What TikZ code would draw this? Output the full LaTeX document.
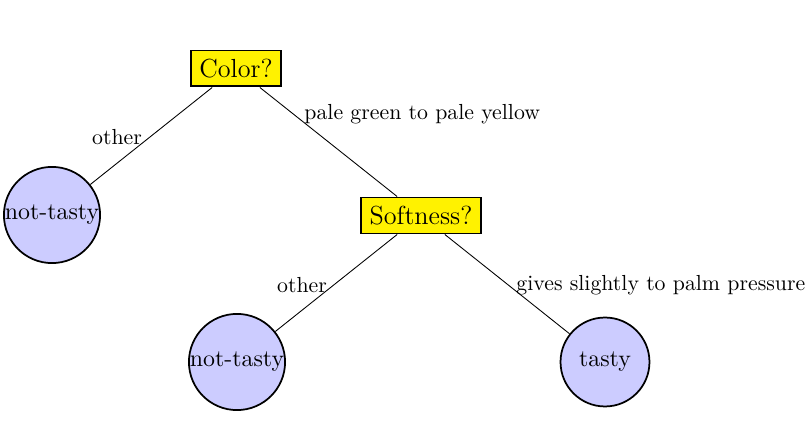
\documentclass[tikz,border=0pt]{standalone}
\begin{document}
\begin{tikzpicture}[x=0.4587pt,y=-0.4587pt,
  question/.style={draw=black,line width=0.9pt,fill=yellow,font=\large,inner sep=3.9pt},
  leafbig/.style={circle,draw=black,thick,fill=blue!20,inner sep=0pt,minimum size=44pt,font=\fontsize{10.95pt}{13pt}\selectfont},
  leafsmall/.style={circle,draw=black,thick,fill=blue!20,inner sep=0pt,minimum size=40.8pt,font=\fontsize{10.95pt}{13pt}\selectfont},
  lbl/.style={inner sep=0pt},
  edge/.style={draw=black,line width=0.4pt}]
\useasboundingbox (0,0) rectangle (812,433);
\node[question] (color) at (236,68.5) {Color?};
\node[question] (soft) at (421,215.5) {Softness?};
\node[leafbig] (nt1) at (52,215) {not-tasty};
\node[leafbig] (nt2) at (237,362) {not-tasty};
\node[leafsmall] (tasty) at (605,362) {tasty};
\draw[edge] (color) -- (nt1);
\draw[edge] (color) -- (soft);
\draw[edge] (soft) -- (nt2);
\draw[edge] (soft) -- (tasty);
\node[lbl] (l1) at (117,137) {other};
\node[lbl,anchor=west] (l2) at (304,114) {pale green to pale yellow};
\node[lbl] (l3) at (302,285) {other};
\node[lbl,anchor=west] (l4) at (516,285) {gives slightly to palm pressure};
\end{tikzpicture}
\end{document}
